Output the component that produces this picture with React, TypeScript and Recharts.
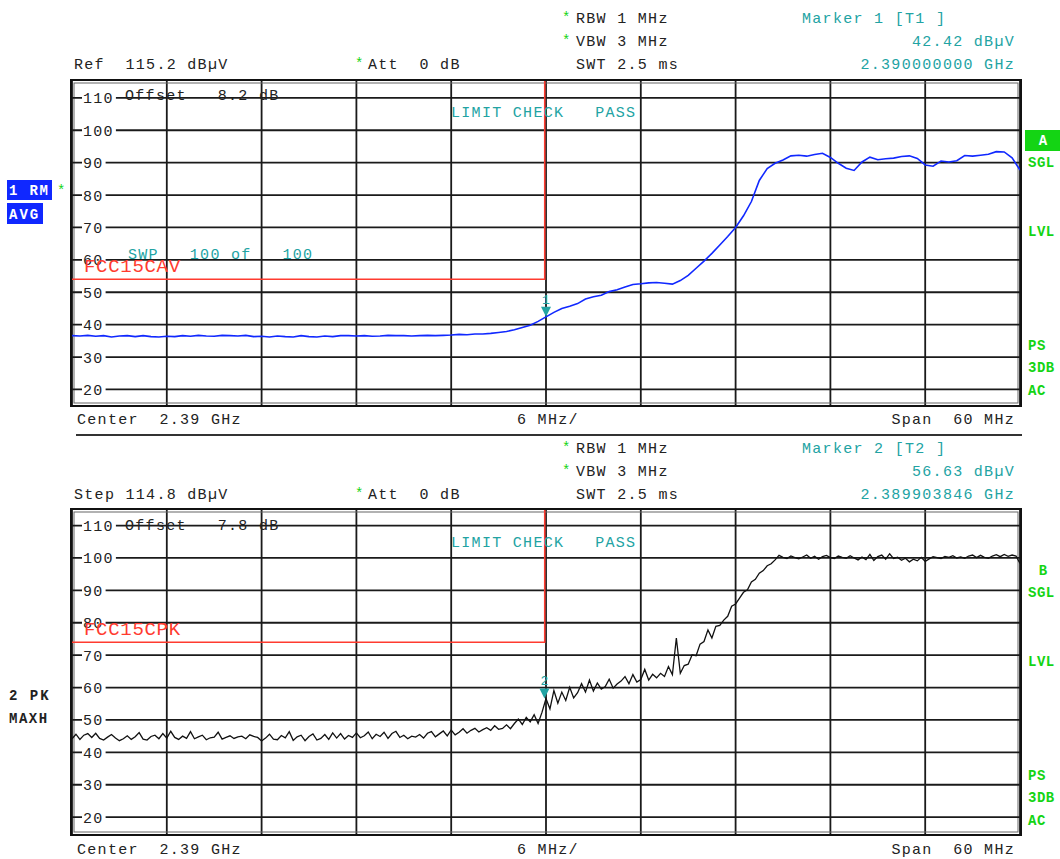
import React from "react";
import {
  LineChart,
  Line,
  XAxis,
  YAxis,
  CartesianGrid,
  ReferenceLine,
  ReferenceArea,
  ReferenceDot,
} from "recharts";

// frequency axis in MHz, 2.36 .. 2.42 GHz (center 2.39 GHz, 6 MHz/div)
const START_MHZ = 2360;
const AVG_STEP = 0.5;
const PK_STEP = 0.25;

// trace 1, RM / AVG (dBuV), every 0.5 MHz
const avgTrace = [
  36.6, 36.5, 36.7, 36.4, 36.6, 36.2, 36.5, 36.6, 36.3, 36.6,
  36.3, 36.2, 36.4, 36.3, 36.6, 36.4, 36.7, 36.5, 36.4, 36.7,
  36.6, 36.5, 36.7, 36.3, 36.4, 36.2, 36.5, 36.3, 36.2, 36.6,
  36.3, 36.2, 36.5, 36.3, 36.6, 36.6, 36.5, 36.6, 36.4, 36.5,
  36.7, 36.6, 36.6, 36.5, 36.6, 36.7, 36.6, 36.7, 36.8, 37.0,
  36.9, 37.1, 37.1, 37.3, 37.6, 37.9, 38.4, 39.1, 39.8, 41.0,
  42.4, 43.8, 45.0, 45.7, 46.5, 47.9, 48.6, 49.1, 50.2, 50.8,
  51.6, 52.4, 52.6, 52.9, 53.0, 52.8, 52.5, 53.6, 55.2, 57.4,
  59.6, 62.0, 64.6, 67.2, 70.0, 73.6, 78.0, 84.5, 88.2, 89.8,
  90.8, 92.1, 92.3, 92.0, 92.5, 92.9, 91.6, 89.8, 88.3, 87.6,
  90.2, 91.7, 90.9, 91.2, 91.4, 91.9, 92.1, 91.3, 89.3, 88.9,
  90.5, 90.2, 90.6, 92.2, 92.0, 92.3, 92.6, 93.4, 93.3, 91.5,
  87.7,
];

// trace 2, PK / MAXH (dBuV), every 0.25 MHz
const pkTrace = [
  44.2, 45.6, 44.0, 45.3, 45.8, 44.6, 45.9, 44.3, 43.8, 44.7,
  45.5, 44.4, 43.6, 44.2, 45.1, 44.0, 44.8, 46.1, 44.1, 43.8,
  44.9, 45.3, 44.2, 45.8, 44.4, 46.5, 44.6, 44.0, 45.0, 44.3,
  46.4, 44.2, 44.8, 45.3, 43.9, 44.5, 44.7, 46.2, 44.1, 44.6,
  45.1, 44.3, 44.8, 45.0, 44.2, 45.4, 44.9, 44.6, 43.5, 44.4,
  45.6, 44.1, 43.9, 45.2, 44.5, 46.4, 43.7, 44.8, 45.3, 43.6,
  44.9, 45.7, 43.8, 44.3, 45.5, 44.0, 46.0, 44.4, 45.8, 44.1,
  45.2, 44.6, 46.0, 44.5, 45.1, 46.3, 44.2, 45.6, 44.9, 46.2,
  44.3, 45.8, 46.5, 44.6, 45.3, 44.2, 45.0, 44.7, 45.5, 44.4,
  45.9, 46.4, 44.8, 45.7, 46.6, 45.1, 46.9, 45.4, 46.2, 47.3,
  45.9, 46.8, 47.4, 46.3, 47.0, 47.6, 46.8, 48.2, 47.1, 47.4,
  48.5, 47.3, 48.9, 50.3, 48.6, 50.8, 49.4, 51.6, 48.9, 52.4,
  56.6, 53.4, 59.1, 55.2, 58.6, 56.0, 60.1, 56.8, 58.4, 61.2,
  58.6, 62.3, 58.9, 61.4, 59.5, 60.3, 62.6, 59.8, 61.1, 62.0,
  63.4, 61.2, 64.0, 61.7, 62.5, 65.6, 62.3, 64.1, 63.0, 64.4,
  63.4, 66.5, 64.0, 75.3, 64.4, 66.8, 67.2, 70.1, 69.8, 73.4,
  74.2, 77.8, 75.3, 78.9, 79.2, 80.8, 82.0, 85.1, 85.8, 87.6,
  89.4, 90.2, 92.6, 93.4, 95.3, 96.1, 97.6, 98.2, 99.4, 100.8,
  100.2, 99.8, 100.6, 100.1, 99.7, 100.3, 100.9, 99.9, 100.5, 99.6,
  100.4, 100.8, 100.1, 99.8, 100.6, 100.2, 99.9, 100.7, 100.0, 99.4,
  100.3, 99.5, 101.1, 99.2, 100.4, 100.9, 99.6, 101.3, 99.8, 100.2,
  99.3, 99.9, 98.8, 99.6, 99.1, 100.2, 98.9, 99.7, 100.4, 100.1,
  99.8, 100.5, 100.2, 100.7, 100.0, 100.3, 99.9, 100.6, 100.9, 100.1,
  100.8, 100.2, 99.9, 100.6, 101.0, 100.4, 101.1, 100.5, 100.9, 100.6,
  98.3,
];

const gridFreqs = [2360, 2366, 2372, 2378, 2384, 2390, 2396, 2402, 2408, 2414, 2420];
const gridLevels = [110, 100, 90, 80, 70, 60, 50, 40, 30, 20];

// limit lines: level up to the band edge, then straight up
const limitFreqs = [2360, 2389.92, 2389.92];
const avgLimit = [54, 54, 115.2];
const pkLimit = [74, 74, 114.8];

const FONT = "'Liberation Mono', 'DejaVu Sans Mono', monospace";
const TEAL = "#22a3a3";
const RED = "#ff3b2f";
const GREEN = "#14d414";
const BLUE = "#1028ff";

const toRows = (vals: number[], step: number) =>
  vals.map((v, i) => ({ f: START_MHZ + i * step, v }));

const toLimit = (vals: number[]) => limitFreqs.map((f, i) => ({ f, v: vals[i] }));

const levelLabel = (v: number) => (props: any) => {
  const vb = props.viewBox || {};
  const x = vb.x + 11;
  const y = vb.y;
  const w = String(v).length * 10.3 + 3;
  return (
    <g>
      <rect x={x - 1} y={y - 8} width={w} height={16} fill="#fff" />
      <text x={x} y={y + 5.5} fontFamily={FONT} fontSize={15} letterSpacing={1.3} fill="#222">
        {v}
      </text>
    </g>
  );
};

const markerShape = (num: string) => (p: any) => (
  <g>
    <text x={p.cx} y={p.cy - 13} textAnchor="middle" fontFamily={FONT} fontSize={13} fill={TEAL}>
      {num}
    </text>
    <path d={`M${p.cx - 5},${p.cy - 10} L${p.cx + 5},${p.cy - 10} L${p.cx},${p.cy} Z`} fill={TEAL} />
  </g>
);

const frameShape = (p: any) => (
  <g fill="none" stroke="#111">
    <rect x={p.x - 1} y={p.y - 1} width={p.width + 2} height={p.height + 2} strokeWidth={2} />
    <rect x={p.x + 2} y={p.y + 2} width={p.width - 4} height={p.height - 4} strokeWidth={1} stroke="#666" />
  </g>
);

interface PanelProps {
  rows: { f: number; v: number }[];
  color: string;
  width: number;
  refLevel: number;
  limit: { f: number; v: number }[];
  markerF: number;
  markerV: number;
  markerNum: string;
}

const Panel: React.FC<PanelProps> = ({ rows, color, width, refLevel, limit, markerF, markerV, markerNum }) => (
  <LineChart width={1060} height={430} data={rows} margin={{ top: 81, right: 40, left: 72, bottom: 25 }}>
    <XAxis dataKey="f" type="number" domain={[2360, 2420]} hide allowDataOverflow />
    <YAxis type="number" domain={[refLevel - 100, refLevel]} hide allowDataOverflow />
    <CartesianGrid horizontal={false} verticalValues={gridFreqs} stroke="#1a1a1a" strokeWidth={1.8} />
    {gridLevels.map((lv) => (
      <ReferenceLine key={lv} y={lv} stroke="#1a1a1a" strokeWidth={1.8} label={levelLabel(lv)} />
    ))}
    <ReferenceArea x1={2360} x2={2420} y1={refLevel - 100} y2={refLevel} shape={frameShape} />
    <Line data={limit} dataKey="v" type="linear" stroke={RED} strokeWidth={1.6} dot={false} isAnimationActive={false} />
    <Line dataKey="v" type="linear" stroke={color} strokeWidth={width} dot={false} isAnimationActive={false} />
    <ReferenceDot x={markerF} y={markerV} shape={markerShape(markerNum)} />
  </LineChart>
);

const T: React.FC<{ x: number; y: number; c?: string; a?: "start" | "end" | "middle"; s?: number; b?: boolean; ls?: number; children: React.ReactNode }> = ({
  x, y, c = "#222", a = "start", s = 15, b = false, ls = 1.3, children,
}) => (
  <text x={x} y={y} fill={c} textAnchor={a} fontSize={s} fontWeight={b ? "bold" : "normal"} letterSpacing={ls} fontFamily={FONT} xmlSpace="preserve" style={{ whiteSpace: "pre" }}>
    {children}
  </text>
);

const Header: React.FC<{ dy: number; label: string; marker: string; level: string; freq: string }> = ({ dy, label, marker, level, freq }) => (
  <g>
    <T x={562} y={22 + dy} c={GREEN} s={14} ls={0}>*</T>
    <T x={576} y={23 + dy}>RBW 1 MHz</T>
    <T x={562} y={45 + dy} c={GREEN} s={14} ls={0}>*</T>
    <T x={576} y={46 + dy}>VBW 3 MHz</T>
    <T x={576} y={69 + dy}>SWT 2.5 ms</T>
    <T x={802} y={23 + dy} c={TEAL}>{marker}</T>
    <T x={1015} y={46 + dy} c={TEAL} a="end">{level}</T>
    <T x={1015} y={69 + dy} c={TEAL} a="end">{freq}</T>
    <T x={74} y={69 + dy}>{label}</T>
    <T x={355} y={68 + dy} c={GREEN} s={14} ls={0}>*</T>
    <T x={368} y={69 + dy}>Att  0 dB</T>
  </g>
);

const Footer: React.FC<{ y: number }> = ({ y }) => (
  <g>
    <T x={77} y={y}>Center  2.39 GHz</T>
    <T x={517} y={y}>6 MHz/</T>
    <T x={1015} y={y} a="end">Span  60 MHz</T>
  </g>
);

const SideFlags: React.FC<{ dy: number }> = ({ dy }) => (
  <g>
    <T x={1028} y={167 + dy} c={GREEN} s={14} b ls={0.5}>SGL</T>
    <T x={1028} y={236 + dy} c={GREEN} s={14} b ls={0.5}>LVL</T>
    <T x={1028} y={350 + dy} c={GREEN} s={14} b ls={0.5}>PS</T>
    <T x={1028} y={372 + dy} c={GREEN} s={14} b ls={0.5}>3DB</T>
    <T x={1028} y={395 + dy} c={GREEN} s={14} b ls={0.5}>AC</T>
  </g>
);

export default function App() {
  const avgRows = toRows(avgTrace, AVG_STEP);
  const pkRows = toRows(pkTrace, PK_STEP);
  return (
    <div style={{ position: "absolute", left: 0, top: 0, width: 1060, height: 859, background: "#fff", overflow: "hidden" }}>
      <div style={{ position: "absolute", left: 0, top: 0 }}>
        <Panel rows={avgRows} color={BLUE} width={1.6} refLevel={115.2} limit={toLimit(avgLimit)} markerF={2390} markerV={42.42} markerNum="1" />
      </div>
      <div style={{ position: "absolute", left: 0, top: 429 }}>
        <Panel rows={pkRows} color="#111" width={1.3} refLevel={114.8} limit={toLimit(pkLimit)} markerF={2389.9} markerV={56.63} markerNum="2" />
      </div>
      <svg width={1060} height={859} style={{ position: "absolute", left: 0, top: 0, pointerEvents: "none" }}>
        <Header dy={0} label="Ref  115.2 dBµV" marker="Marker 1 [T1 ]" level="42.42 dBµV" freq="2.390000000 GHz" />
        <Header dy={430} label="Step 114.8 dBµV" marker="Marker 2 [T2 ]" level="56.63 dBµV" freq="2.389903846 GHz" />

        <T x={125} y={100}>Offset   8.2 dB</T>
        <T x={451} y={117} c={TEAL}>LIMIT CHECK   PASS</T>
        <T x={128} y={259} c={TEAL}>SWP   100 of   100</T>
        <T x={84} y={272} c={RED} s={19} ls={0.7}>FCC15CAV</T>

        <T x={125} y={530}>Offset   7.8 dB</T>
        <T x={451} y={547} c={TEAL}>LIMIT CHECK   PASS</T>
        <T x={84} y={635} c={RED} s={19} ls={0.7}>FCC15CPK</T>

        <Footer y={424} />
        <line x1={76} y1={435} x2={1022} y2={435} stroke="#333" strokeWidth={2} />
        <Footer y={854} />

        <rect x={7} y={180} width={45} height={20} fill={BLUE} />
        <T x={9} y={195} c="#fff" s={14} b ls={1.8}>1 RM</T>
        <T x={57} y={195} c={GREEN} s={14} ls={0}>*</T>
        <rect x={7} y={203} width={36} height={21} fill={BLUE} />
        <T x={9} y={219} c="#fff" s={14} b ls={2}>AVG</T>

        <T x={9} y={700} s={14} b ls={2}>2 PK</T>
        <T x={9} y={723} s={14} b ls={1.5}>MAXH</T>

        <rect x={1025} y={130} width={35} height={21} fill={GREEN} />
        <T x={1043} y={145} c="#fff" s={14} b a="middle" ls={0}>A</T>
        <SideFlags dy={0} />
        <T x={1043} y={575} c={GREEN} s={14} b a="middle" ls={0}>B</T>
        <SideFlags dy={430} />
      </svg>
    </div>
  );
}
